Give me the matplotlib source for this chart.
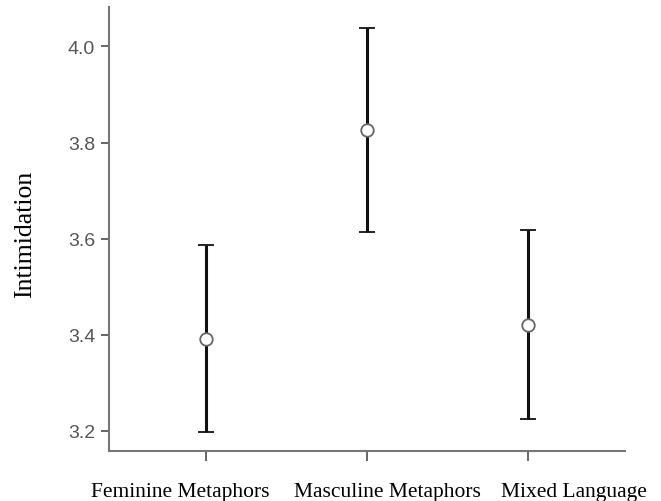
import matplotlib
matplotlib.use("Agg")
import matplotlib.pyplot as plt
from matplotlib.transforms import ScaledTranslation

categories = ["Feminine Metaphors", "Masculine Metaphors", "Mixed Language"]
means = [3.392, 3.826, 3.421]
lower = [3.198, 3.614, 3.224]
upper = [3.587, 4.039, 3.618]

err_lo = [m - l for m, l in zip(means, lower)]
err_hi = [u - m for m, u in zip(means, upper)]
xs = list(range(len(categories)))

fig = plt.figure(figsize=(6.61, 5.02), dpi=100)
ax = fig.add_axes([109 / 661, 1 - 452 / 502, (625 - 109) / 661, (452 - 8) / 502])

ax.errorbar(xs, means, yerr=[err_lo, err_hi], fmt="o", color="black",
            ecolor="#111111", elinewidth=2.2, capsize=5.8, capthick=2.2,
            markersize=9, markerfacecolor="white", markeredgecolor="#666666",
            markeredgewidth=1.3, zorder=3)

ax.set_xlim(-0.6, 2.6)
ax.set_ylim(3.158, 4.082)
ax.set_yticks([3.2, 3.4, 3.6, 3.8, 4.0])
ax.set_yticklabels(["3.2", "3.4", "3.6", "3.8", "4.0"], family="Liberation Sans",
                   fontsize=14, color="#555555")
ax.set_xticks(xs)
ax.set_xticklabels(categories, family="Liberation Serif", fontsize=15.5, color="black")
ax.tick_params(axis="y", length=6, width=1.4, color="#666666", pad=4)
ax.tick_params(axis="x", length=7, width=1.4, color="#666666", pad=15)

# labels in the original sit a bit off-centre from their ticks
shifts = [-25, 20, 46]
for lab, dx in zip(ax.get_xticklabels(), shifts):
    lab.set_transform(lab.get_transform() + ScaledTranslation(dx / 100, 0, fig.dpi_scale_trans))

for s in ("top", "right"):
    ax.spines[s].set_visible(False)
for s in ("left", "bottom"):
    ax.spines[s].set_color("#777777")
    ax.spines[s].set_linewidth(1.5)

ax.set_ylabel("Intimidation", family="Liberation Serif", fontsize=18.5)
ax.yaxis.set_label_coords(-73 / 516, 0.49)

fig.savefig("out.png", dpi=100)
